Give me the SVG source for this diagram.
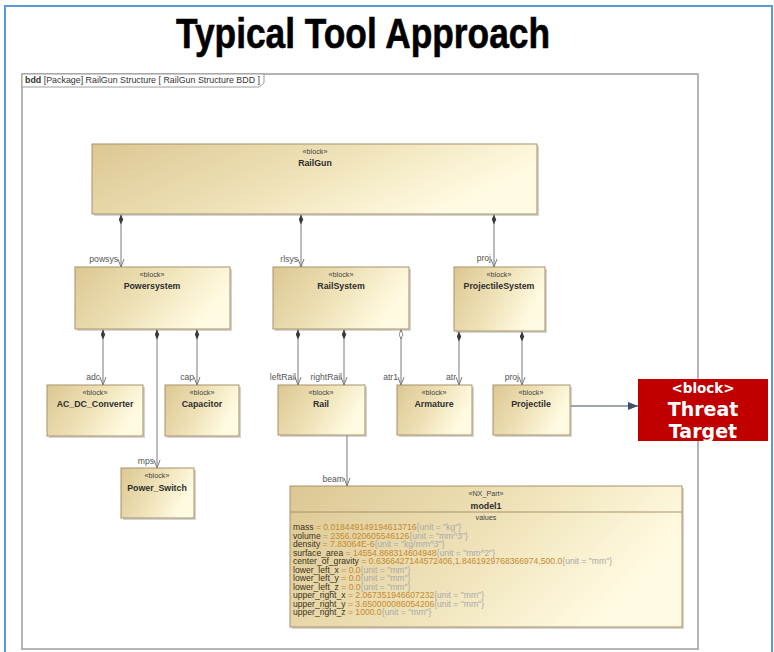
<svg xmlns="http://www.w3.org/2000/svg" width="774" height="652" viewBox="0 0 774 652">
  <defs>
    <linearGradient id="blockGrad" x1="0" y1="0" x2="1" y2="0.35">
      <stop offset="0" stop-color="#dcc792"/>
      <stop offset="0.55" stop-color="#efe2b8"/>
      <stop offset="1" stop-color="#fffbe2"/>
    </linearGradient>
    <marker id="openArrow" viewBox="0 0 8 8" refX="8" refY="4" markerWidth="8" markerHeight="8" orient="auto" markerUnits="userSpaceOnUse">
      <path d="M0,1 L8,4 L0,7" fill="none" stroke="#7a7a7a" stroke-width="1"/>
    </marker>
    <marker id="diamond" viewBox="0 0 10 5" refX="0" refY="2.5" markerWidth="10" markerHeight="5" orient="auto" markerUnits="userSpaceOnUse">
      <path d="M0,2.5 L5,0.3 L10,2.5 L5,4.7 Z" fill="#3a3a3a"/>
    </marker>
    <marker id="hollowDiamond" viewBox="0 0 10 5" refX="0" refY="2.5" markerWidth="10" markerHeight="5" orient="auto" markerUnits="userSpaceOnUse">
      <path d="M0.5,2.5 L5,0.6 L9.5,2.5 L5,4.4 Z" fill="#ffffff" stroke="#6a6a6a" stroke-width="0.8"/>
    </marker>
    <marker id="solidArrow" viewBox="0 0 10 8" refX="10" refY="4" markerWidth="10" markerHeight="8" orient="auto" markerUnits="userSpaceOnUse">
      <path d="M0,0 L10,4 L0,8 Z" fill="#3f4f6a"/>
    </marker>
  </defs>
  <style>
    .title { font-family: "Liberation Sans", Arial, sans-serif; font-weight: bold; font-size: 43px; fill: #000; stroke: #000; stroke-width: 0.6px; }
    .frame { fill: #ffffff; stroke: #9c9c9c; stroke-width: 1.5; }
    .tab { fill: #ffffff; stroke: #9c9c9c; stroke-width: 1; }
    .tabText { font-family: "Liberation Sans", Arial, sans-serif; font-size: 8.4px; fill: #333; }
    .shadow { fill: #a0a0a0; opacity: 0.45; }
    .block { fill: url(#blockGrad); stroke: #a8926a; stroke-width: 1; }
    .stereo { font-family: "Liberation Sans", Arial, sans-serif; font-size: 7.2px; fill: #444; text-anchor: middle; }
    .name { font-family: "Liberation Sans", Arial, sans-serif; font-size: 8.8px; font-weight: bold; fill: #2e2e2e; text-anchor: middle; }
    .conn { stroke: #7a7a7a; stroke-width: 1; fill: none; }
    .role { font-family: "Liberation Sans", Arial, sans-serif; font-size: 8.6px; fill: #555; text-anchor: end; }
    .attr { font-family: "Liberation Sans", Arial, sans-serif; font-size: 8.6px; }
    .an { fill: #3a3220; }
    .av { fill: #c68a30; }
    .au { fill: #a9a9a9; }
    .threat { font-family: "DejaVu Sans", Verdana, sans-serif; font-weight: bold; fill: #ffffff; text-anchor: middle; }
  </style>

  <!-- page border -->
  <rect x="5" y="6" width="767" height="660" fill="#ffffff" stroke="#5b9bd5" stroke-width="2"/>

  <text class="title" x="176" y="48" textLength="374" lengthAdjust="spacingAndGlyphs">Typical Tool Approach</text>

  <!-- diagram frame -->
  <g id="frame">
    <rect class="frame" x="22" y="74" width="676" height="575"/>
    <path class="tab" d="M22,74 H264 V83 L259,87 H22 Z"/>
    <text class="tabText" x="25" y="83" textLength="235" lengthAdjust="spacingAndGlyphs"><tspan font-weight="bold">bdd</tspan> [Package] RailGun Structure [ RailGun Structure BDD ]</text>
  </g>

  <!-- blocks -->
  <g id="RailGun">
    <rect class="shadow" x="94" y="146" width="445" height="70"/>
    <rect class="block" x="92" y="144" width="445" height="70"/>
    <text class="stereo" x="315" y="154">«block»</text>
    <text class="name" x="315" y="166">RailGun</text>
  </g>
  <g id="Powersystem">
    <rect class="shadow" x="77" y="269" width="155" height="62"/>
    <rect class="block" x="75" y="267" width="155" height="62"/>
    <text class="stereo" x="152" y="277">«block»</text>
    <text class="name" x="152" y="289">Powersystem</text>
  </g>
  <g id="RailSystem">
    <rect class="shadow" x="275" y="269" width="136" height="62"/>
    <rect class="block" x="273" y="267" width="136" height="62"/>
    <text class="stereo" x="341" y="277">«block»</text>
    <text class="name" x="341" y="289">RailSystem</text>
  </g>
  <g id="ProjectileSystem">
    <rect class="shadow" x="456" y="269" width="91" height="64"/>
    <rect class="block" x="454" y="267" width="91" height="64"/>
    <text class="stereo" x="499" y="277">«block»</text>
    <text class="name" x="499" y="289">ProjectileSystem</text>
  </g>
  <g id="AC_DC_Converter">
    <rect class="shadow" x="49" y="387" width="96" height="51"/>
    <rect class="block" x="47" y="385" width="96" height="51"/>
    <text class="stereo" x="95" y="395">«block»</text>
    <text class="name" x="95" y="407">AC_DC_Converter</text>
  </g>
  <g id="Capacitor">
    <rect class="shadow" x="167" y="387" width="74" height="51"/>
    <rect class="block" x="165" y="385" width="74" height="51"/>
    <text class="stereo" x="202" y="395">«block»</text>
    <text class="name" x="202" y="407">Capacitor</text>
  </g>
  <g id="Rail">
    <rect class="shadow" x="280" y="387" width="87" height="50"/>
    <rect class="block" x="278" y="385" width="87" height="50"/>
    <text class="stereo" x="321" y="395">«block»</text>
    <text class="name" x="321" y="407">Rail</text>
  </g>
  <g id="Armature">
    <rect class="shadow" x="399" y="387" width="75" height="50"/>
    <rect class="block" x="397" y="385" width="75" height="50"/>
    <text class="stereo" x="434" y="395">«block»</text>
    <text class="name" x="434" y="407">Armature</text>
  </g>
  <g id="Projectile">
    <rect class="shadow" x="495" y="387" width="77" height="50"/>
    <rect class="block" x="493" y="385" width="77" height="50"/>
    <text class="stereo" x="531" y="395">«block»</text>
    <text class="name" x="531" y="407">Projectile</text>
  </g>
  <g id="Power_Switch">
    <rect class="shadow" x="123" y="470" width="73" height="50"/>
    <rect class="block" x="121" y="468" width="73" height="50"/>
    <text class="stereo" x="157" y="478">«block»</text>
    <text class="name" x="157" y="491">Power_Switch</text>
  </g>
  <g id="model1">
    <rect class="shadow" x="292" y="488" width="392" height="141"/>
    <rect class="block" x="290" y="486" width="392" height="141"/>
    <text class="stereo" x="486" y="496">«NX_Part»</text>
    <text class="name" x="486" y="509" font-size="9.8">model1</text>
    <line x1="290" y1="512" x2="682" y2="512" stroke="#a8926a" stroke-width="1"/>
    <text class="stereo" x="486" y="520" font-size="6.8" fill="#999">values</text>
    <g class="attr">
      <text x="293" y="530"><tspan class="an">mass</tspan><tspan class="av"> = 0.018449149194613716</tspan><tspan class="au">{unit = "kg"}</tspan></text>
      <text x="293" y="538.5"><tspan class="an">volume</tspan><tspan class="av"> = 2356.020605546126</tspan><tspan class="au">{unit = "mm^3"}</tspan></text>
      <text x="293" y="547"><tspan class="an">density</tspan><tspan class="av"> = 7.83064E-6</tspan><tspan class="au">{unit = "kg/mm^3"}</tspan></text>
      <text x="293" y="555.5"><tspan class="an">surface_area</tspan><tspan class="av"> = 14554.868314604948</tspan><tspan class="au">{unit = "mm^2"}</tspan></text>
      <text x="293" y="564"><tspan class="an">center_of_gravity</tspan><tspan class="av"> = 0.6366427144572406,1.8461929768366974,500.0</tspan><tspan class="au">{unit = "mm"}</tspan></text>
      <text x="293" y="572.5"><tspan class="an">lower_left_x</tspan><tspan class="av"> = 0.0</tspan><tspan class="au">{unit = "mm"}</tspan></text>
      <text x="293" y="581"><tspan class="an">lower_left_y</tspan><tspan class="av"> = 0.0</tspan><tspan class="au">{unit = "mm"}</tspan></text>
      <text x="293" y="589.5"><tspan class="an">lower_left_z</tspan><tspan class="av"> = 0.0</tspan><tspan class="au">{unit = "mm"}</tspan></text>
      <text x="293" y="598"><tspan class="an">upper_right_x</tspan><tspan class="av"> = 2.067351946607232</tspan><tspan class="au">{unit = "mm"}</tspan></text>
      <text x="293" y="606.5"><tspan class="an">upper_right_y</tspan><tspan class="av"> = 3.650000086054206</tspan><tspan class="au">{unit = "mm"}</tspan></text>
      <text x="293" y="615"><tspan class="an">upper_right_z</tspan><tspan class="av"> = 1000.0</tspan><tspan class="au">{unit = "mm"}</tspan></text>
    </g>
  </g>
  <g id="ThreatTarget">
    <rect x="638" y="379" width="130" height="62" fill="#c00000"/>
    <text class="threat" x="703" y="393" font-size="13.5">&lt;block&gt;</text>
    <text class="threat" x="703" y="416" font-size="19">Threat</text>
    <text class="threat" x="703" y="438" font-size="19">Target</text>
  </g>

  <!-- connectors -->
  <g id="connectors">
    <path class="conn" d="M121,214.5 V267" marker-start="url(#diamond)" marker-end="url(#openArrow)"/>
    <path class="conn" d="M301,214.5 V267" marker-start="url(#diamond)" marker-end="url(#openArrow)"/>
    <path class="conn" d="M494,214.5 V267" marker-start="url(#diamond)" marker-end="url(#openArrow)"/>
    <path class="conn" d="M103,329.5 V385" marker-start="url(#diamond)" marker-end="url(#openArrow)"/>
    <path class="conn" d="M157,329.5 V468" marker-start="url(#diamond)" marker-end="url(#openArrow)"/>
    <path class="conn" d="M197,329.5 V385" marker-start="url(#diamond)" marker-end="url(#openArrow)"/>
    <path class="conn" d="M298,329.5 V385" marker-start="url(#diamond)" marker-end="url(#openArrow)"/>
    <path class="conn" d="M344,329.5 V385" marker-start="url(#diamond)" marker-end="url(#openArrow)"/>
    <path class="conn" d="M401,329.5 V385" marker-start="url(#hollowDiamond)" marker-end="url(#openArrow)"/>
    <path class="conn" d="M459,331.5 V385" marker-start="url(#diamond)" marker-end="url(#openArrow)"/>
    <path class="conn" d="M522,331.5 V385" marker-start="url(#diamond)" marker-end="url(#openArrow)"/>
    <path class="conn" d="M347,435.5 V486" marker-end="url(#openArrow)"/>
    <path d="M571,406 H638" stroke="#3f4f6a" stroke-width="1.2" fill="none" marker-end="url(#solidArrow)"/>

    <text class="role" x="118" y="262">powsys</text>
    <text class="role" x="298" y="262">rlsys</text>
    <text class="role" x="491" y="261">proj</text>
    <text class="role" x="100" y="380">adc</text>
    <text class="role" x="194" y="380">cap</text>
    <text class="role" x="154" y="464">mps</text>
    <text class="role" x="296" y="380">leftRail</text>
    <text class="role" x="342" y="380">rightRail</text>
    <text class="role" x="398" y="380">atr1</text>
    <text class="role" x="456" y="380">atr</text>
    <text class="role" x="519" y="380">proj</text>
    <text class="role" x="344" y="482">beam</text>
  </g>
</svg>
